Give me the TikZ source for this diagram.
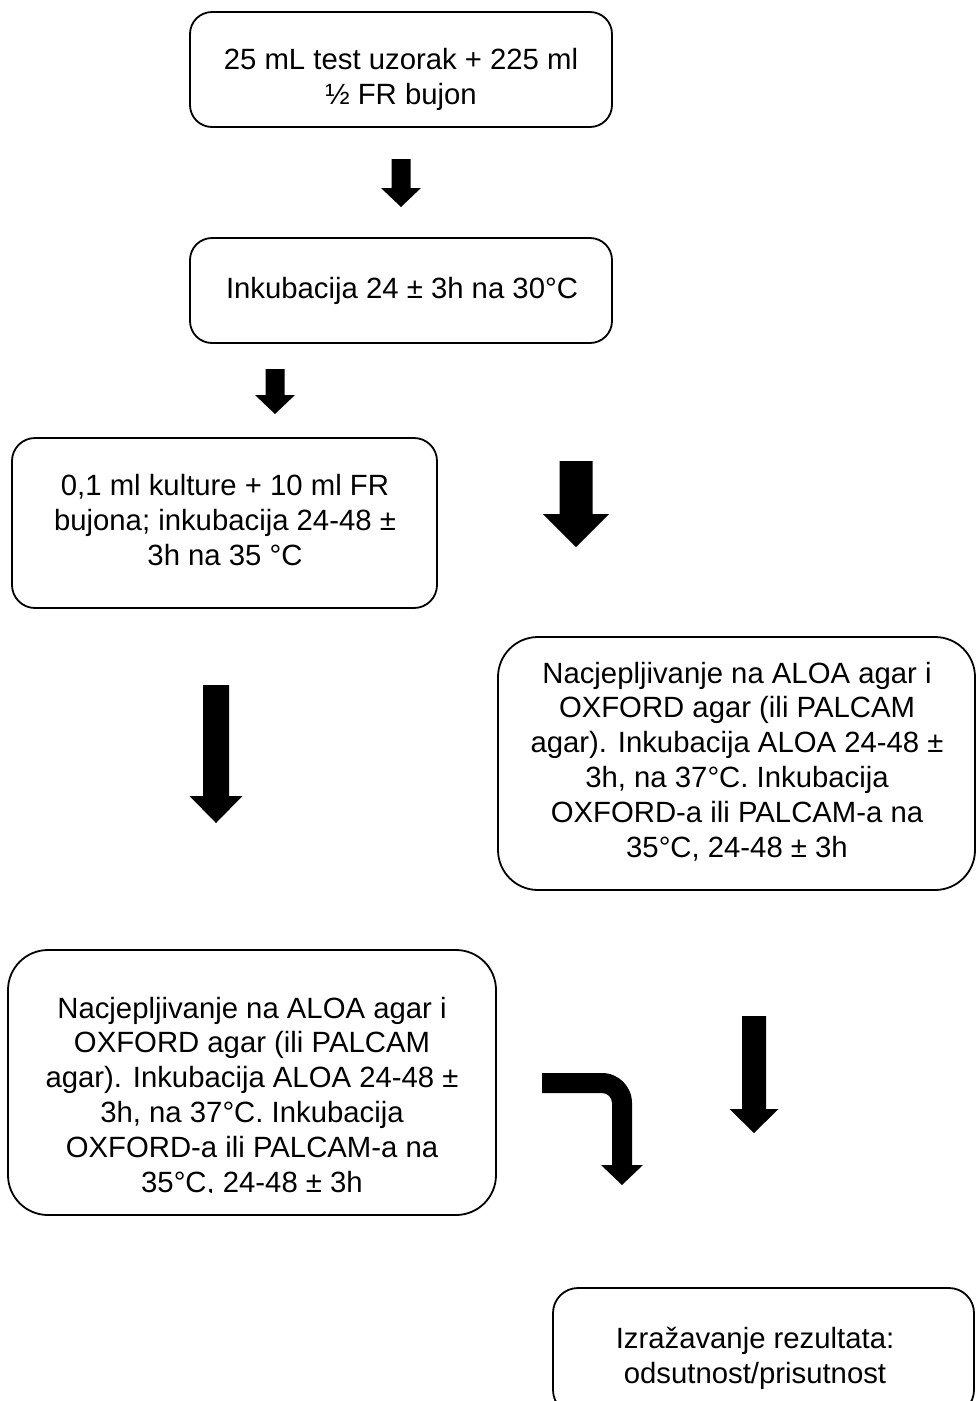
\documentclass[tikz,border=0pt]{standalone}
\usepackage{fontspec}
\setmainfont{Liberation Sans}
\usetikzlibrary{calc}
\def\blockarrow(#1,#2)(#3:#4:#5:#6){\fill ({#1-#3},#2) -- ({#1+#3},#2) -- ({#1+#3},#5) -- ({#1+#4},#5) -- (#1,#6) -- ({#1-#4},#5) -- ({#1-#3},#5) -- cycle;}
\tikzset{box/.style={line width=1.8pt, rounded corners=#1},
	txt/.style={anchor=base, align=center, inner sep=0pt, font=\fontsize{29.3}{34.8}\selectfont}}

\begin{document}
\begin{tikzpicture}[x=1pt,y=-1pt]
		%%%%% START %%%%%
		\useasboundingbox (0,0) rectangle (976,1401);
		\clip (0,0) rectangle (976,1401);
		\fill[white] (0,0) rectangle (976,1401);
		
		\draw[box=22pt] (190,12) rectangle (612,127);
		\node[txt] (uzorak) at (401,104) {25 mL test uzorak + 225 ml\\½ FR bujon};
		\blockarrow(401,159)(9.5:20:188:207)
		
		\draw[box=22pt] (190,238) rectangle (612,343);
		\node[txt] (inkub) at (402,298) {Inkubacija 24 ± 3h na 30°C};
		\blockarrow(275,369)(9.5:20:395:414)
		
		\draw[box=23pt] (12,438) rectangle (437,608);
		\node[txt] (kultura) at (225,565) {0,1 ml kulture + 10 ml FR\\bujona; inkubacija 24-48 ±\\3h na 35 °C};
		\blockarrow(576,461)(16.5:33:514:547)
		
		\draw[box=40pt] (498,637) rectangle (975,890);
		\node[txt] (nacjep1) at (737,857) {Nacjepljivanje na ALOA agar i\\OXFORD agar (ili PALCAM\\agar). Inkubacija ALOA 24-48 ±\\3h, na 37°C. Inkubacija\\OXFORD-a ili PALCAM-a na\\35°C, 24-48 ± 3h};
		\blockarrow(216,685)(13:26.5:796:823)
		
		\draw[box=40pt] (8,950) rectangle (496,1215);
		\begin{scope}
			\clip (0,0) rectangle (976,1192);
			\node[txt] (nacjep2) at (252,1192) {Nacjepljivanje na ALOA agar i\\OXFORD agar (ili PALCAM\\agar). Inkubacija ALOA 24-48 ±\\3h, na 37°C. Inkubacija\\OXFORD-a ili PALCAM-a na\\35°C, 24-48 ± 3h};
		\end{scope}
		
		\fill (542,1073) -- (602,1073) .. controls (618.6,1073) and (632,1086.4) .. (632,1103) -- (632,1165) -- (643,1165) -- (622,1185) -- (601,1165) -- (612,1165) -- (612,1103) .. controls (612,1097.5) and (607.5,1093) .. (602,1093) -- (542,1093) -- cycle;
		\blockarrow(754,1016)(12:24.5:1109:1133)
		
		\draw[box=25pt] (553,1288) rectangle (974,1415);
		\node[txt] (izraz) at (755,1383) {Izražavanje rezultata:\\odsutnost/prisutnost};
		
		%%%%% END %%%%%
	\end{tikzpicture}
\end{document}
